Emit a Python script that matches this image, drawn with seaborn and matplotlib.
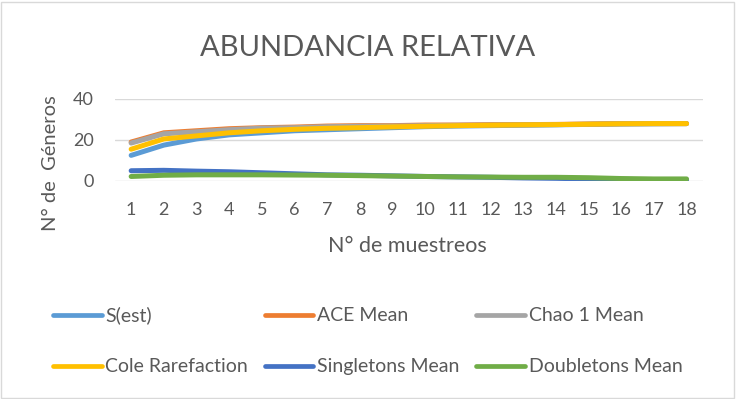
import seaborn as sns
import matplotlib.pyplot as plt
import pandas as pd
from matplotlib.lines import Line2D
from matplotlib.patches import Rectangle

muestreos = list(range(1, 19))
s_est = [12.5, 17.5, 20.5, 22.5, 23.5, 24.5, 25, 25.5, 26, 26.5, 26.8, 27, 27.2, 27.4, 27.6, 27.8, 27.9, 28]
ace_mean = [19, 23.5, 24.5, 25.5, 26, 26.3, 26.8, 27, 27, 27.3, 27.3, 27.5, 27.5, 27.6, 27.8, 28, 28, 28]
chao1_mean = [18.5, 23, 24, 25, 25.8, 26, 26.5, 26.7, 26.8, 27, 27.2, 27.3, 27.4, 27.5, 27.7, 27.9, 28, 28]
cole = [15.5, 20.5, 22, 23.5, 24.5, 25.2, 25.7, 26, 26.4, 26.7, 27, 27.2, 27.4, 27.5, 27.7, 27.9, 28, 28]
singletons = [5, 5.2, 4.8, 4.5, 4, 3.5, 3, 2.8, 2.5, 2.2, 2, 1.8, 1.5, 1.3, 1, 0.8, 0.6, 0.5]
doubletons = [2.2, 2.8, 3, 3, 3, 2.9, 2.8, 2.6, 2.4, 2.2, 2, 1.9, 1.8, 1.8, 1.6, 1.2, 1, 1]

series = {
    'S(est)': s_est,
    'ACE Mean': ace_mean,
    'Chao 1 Mean': chao1_mean,
    'Cole Rarefaction': cole,
    'Singletons Mean': singletons,
    'Doubletons Mean': doubletons,
}
colores = {
    'S(est)': '#5B9BD5',
    'ACE Mean': '#ED7D31',
    'Chao 1 Mean': '#A5A5A5',
    'Cole Rarefaction': '#FFC000',
    'Singletons Mean': '#4472C4',
    'Doubletons Mean': '#70AD47',
}

df = pd.DataFrame([
    {'muestreo': m, 'valor': v, 'serie': name}
    for name, vals in series.items()
    for m, v in zip(muestreos, vals)
])

sns.set_style('white')
plt.rcParams['font.family'] = ['Lato', 'DejaVu Sans']
gris = '#595959'

fig = plt.figure(figsize=(7.36, 3.99), dpi=100)
ax = fig.add_axes([0.156, 0.5464, 0.799, 0.2055])

sns.lineplot(data=df, x='muestreo', y='valor', hue='serie', hue_order=list(series),
             palette=colores, linewidth=3.6, ax=ax, legend=False, solid_capstyle='round')

ax.set_xlim(0.5, 18.5)
ax.set_ylim(0, 40)
ax.set_xticks(muestreos)
ax.set_yticks([0, 20, 40])
ax.grid(axis='y', color='#D9D9D9', linewidth=1)
ax.set_axisbelow(True)
for s in ax.spines.values():
    s.set_visible(False)
ax.tick_params(axis='both', length=0, labelsize=13, labelcolor=gris)
ax.tick_params(axis='x', pad=15)
ax.tick_params(axis='y', pad=15)
ax.set_xlabel('N° de muestreos', fontsize=15.5, color=gris, va='center')
ax.xaxis.set_label_coords(0.498, -0.79)
ax.set_ylabel('N° de  Géneros', fontsize=14.5, color=gris, va='center')
ax.yaxis.set_label_coords(-0.11, 0.22)

fig.text(0.5, 0.88, 'ABUNDANCIA RELATIVA', ha='center', va='center', fontsize=21, color=gris)

orden = ['S(est)', 'Cole Rarefaction', 'ACE Mean', 'Singletons Mean', 'Chao 1 Mean', 'Doubletons Mean']
handles = [Line2D([], [], color=colores[n], linewidth=3.4, solid_capstyle='round') for n in orden]
leg = fig.legend(handles, orden, loc='upper left', bbox_to_anchor=(0.072, 0.232), ncol=3,
                 frameon=False, fontsize=14, handlelength=2.5, handletextpad=0.2,
                 columnspacing=0.85, labelspacing=1.75, borderaxespad=0, borderpad=0)
for t in leg.get_texts():
    t.set_color(gris)

fig.patches.append(Rectangle((0.002, 0.003), 0.995, 0.993, transform=fig.transFigure,
                             fill=False, edgecolor='#D9D9D9', linewidth=1))

fig.savefig('out.png', dpi=100)
